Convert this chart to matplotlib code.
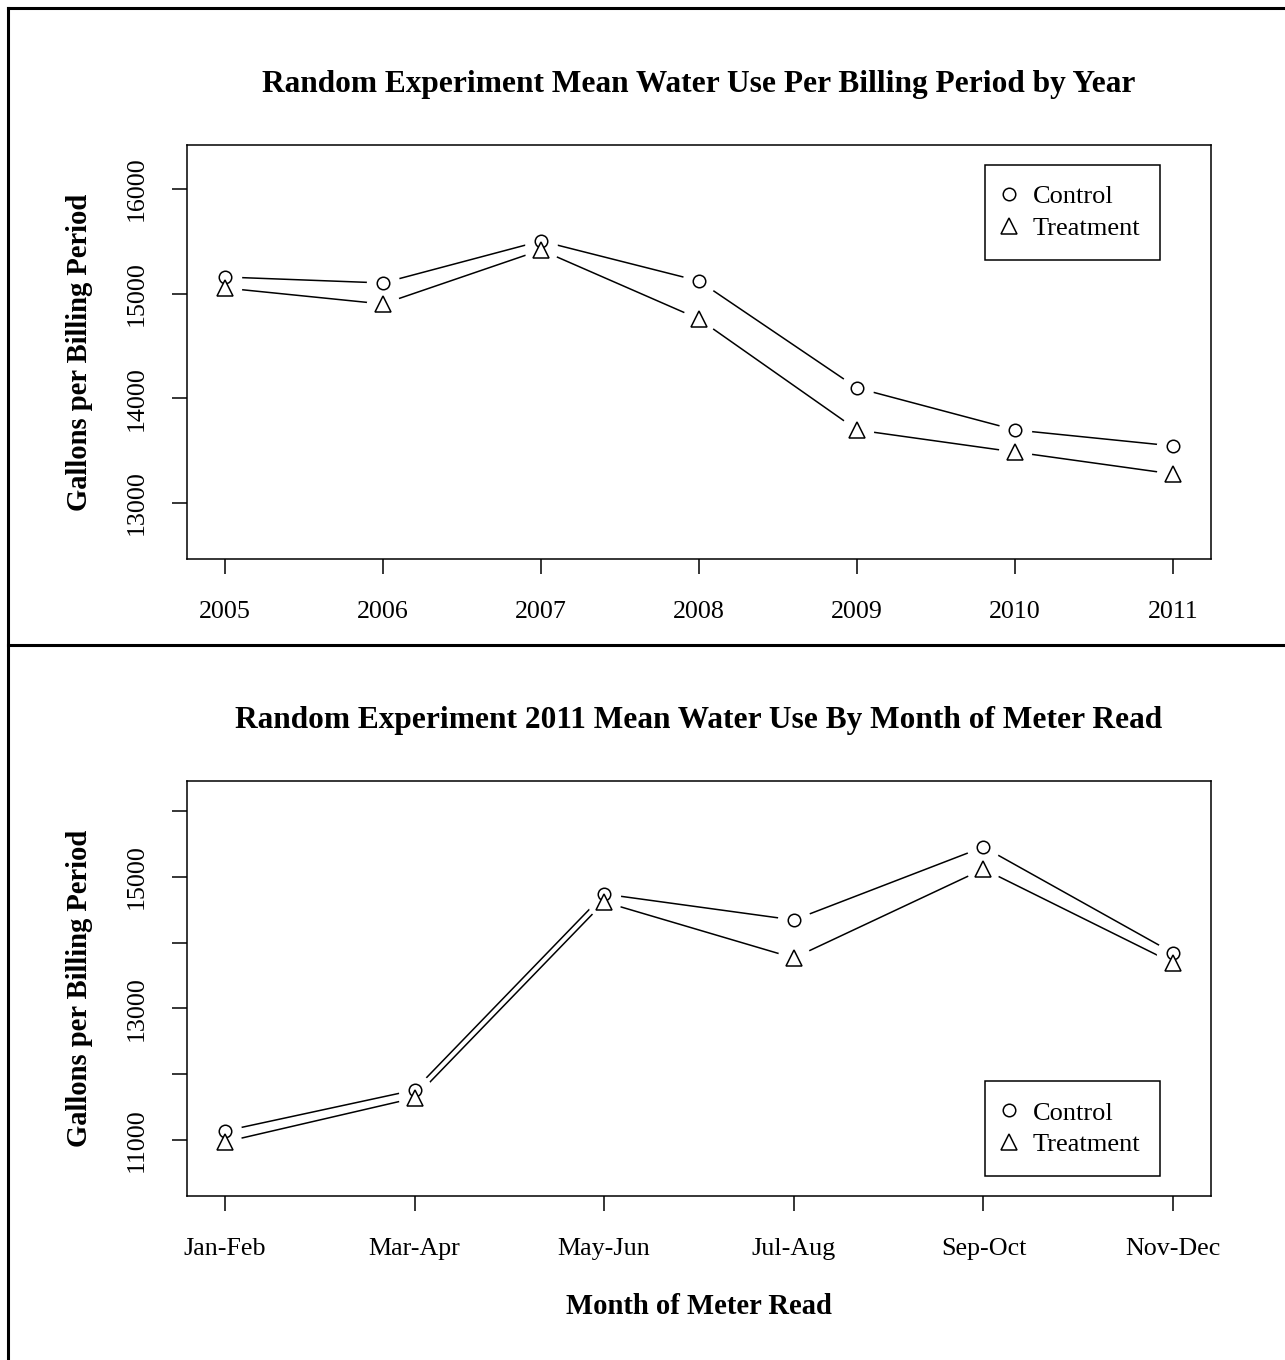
""" Mean water use of the random experiment, drawn in the style of an R base plot:
    one panel by year and one panel by month of meter read """

import matplotlib
matplotlib.use('Agg')
import matplotlib.pyplot as plt
from matplotlib.lines import Line2D

plt.rcParams['font.family'] = ['Liberation Serif', 'DejaVu Serif']

# data
years = [2005, 2006, 2007, 2008, 2009, 2010, 2011]
year_control = [15159, 15102, 15503, 15121, 14099, 13698, 13545]
year_treatment = [15054, 14901, 15417, 14758, 13698, 13487, 13277]

months = ['Jan-Feb', 'Mar-Apr', 'May-Jun', 'Jul-Aug', 'Sep-Oct', 'Nov-Dec']
month_control = [11137, 11760, 14741, 14346, 15456, 13844]
month_treatment = [10970, 11639, 14620, 13768, 15122, 13692]

year_yticks = [13000, 14000, 15000, 16000]
month_yticks = [11000, 12000, 13000, 14000, 15000, 16000]
month_ylabels = ['11000', '', '13000', '', '15000', '']


def draw_series(ax, x, y):
    """ line with gaps around the points, like R type='b' """
    ax.plot(x, y, '-', color='black', lw=1.1, zorder=1)
    ax.plot(x, y, 'o', ms=24, mfc='white', mec='none', zorder=2)


def draw_points(ax, x, y, marker, size, label):
    ax.plot(x, y, marker, ms=size, mfc='white', mec='black', mew=1.1,
            ls='none', zorder=3, label=label)


def style_axes(ax):
    for side in ax.spines.values():
        side.set_linewidth(1.1)
    ax.tick_params(direction='out', length=11, width=1.1, labelsize=18.7)
    ax.tick_params(axis='x', pad=19)
    ax.tick_params(axis='y', pad=17)
    for lab in ax.get_yticklabels():
        lab.set_rotation(90)
        lab.set_va('center')


def add_legend(ax, loc, anchor):
    leg = ax.legend(loc=loc, bbox_to_anchor=anchor, fontsize=19, frameon=True,
                    fancybox=False, edgecolor='black', framealpha=1,
                    handlelength=0.3, handletextpad=0.73, borderpad=0.75,
                    labelspacing=0.31, borderaxespad=0)
    leg.get_frame().set_linewidth(1.1)


def label_panel(ax, title):
    ax.set_title(title, fontsize=22.6, fontweight='bold', pad=38)
    ax.set_ylabel('Gallons per Billing Period', fontsize=20.6,
                  fontweight='bold', labelpad=24)


fig = plt.figure(figsize=(12.85, 13.6), dpi=100)
W, H = 1285.0, 1360.0

# top panel
ax1 = fig.add_axes([187 / W, 1 - 559 / H, 1024 / W, 414 / H])
draw_series(ax1, years, year_control)
draw_series(ax1, years, year_treatment)
draw_points(ax1, years, year_control, 'o', 9, 'Control')
draw_points(ax1, years, year_treatment, '^', 12, 'Treatment')
ax1.set_xlim(2004.76, 2011.24)
ax1.set_ylim(12465, 16420)
ax1.set_xticks(years)
ax1.set_yticks(year_yticks)
style_axes(ax1)
label_panel(ax1, 'Random Experiment Mean Water Use Per Billing Period by Year')
add_legend(ax1, 'upper right', (0.950, 0.952))

# bottom panel
xpos = list(range(1, len(months) + 1))
ax2 = fig.add_axes([187 / W, 1 - 1196 / H, 1024 / W, 415 / H])
draw_series(ax2, xpos, month_control)
draw_series(ax2, xpos, month_treatment)
draw_points(ax2, xpos, month_control, 'o', 9, 'Control')
draw_points(ax2, xpos, month_treatment, '^', 12, 'Treatment')
ax2.set_xlim(0.8, 6.2)
ax2.set_ylim(10148, 16460)
ax2.set_xticks(xpos)
ax2.set_xticklabels(months)
ax2.set_yticks(month_yticks)
ax2.set_yticklabels(month_ylabels)
style_axes(ax2)
label_panel(ax2, 'Random Experiment 2011 Mean Water Use By Month of Meter Read')
ax2.set_xlabel('Month of Meter Read', fontsize=20.6, fontweight='bold',
               labelpad=24)
add_legend(ax2, 'lower right', (0.950, 0.048))

# outer frame lines of the page
frame = dict(color='black', lw=2.2, transform=fig.transFigure)
fig.add_artist(Line2D([8 / W, 8 / W], [0, 1 - 8 / H], **frame))
fig.add_artist(Line2D([8 / W, 1], [1 - 8 / H, 1 - 8 / H], **frame))
fig.add_artist(Line2D([8 / W, 1], [1 - 645 / H, 1 - 645 / H], **frame))

fig.savefig('out.png', dpi=100, facecolor='white')
